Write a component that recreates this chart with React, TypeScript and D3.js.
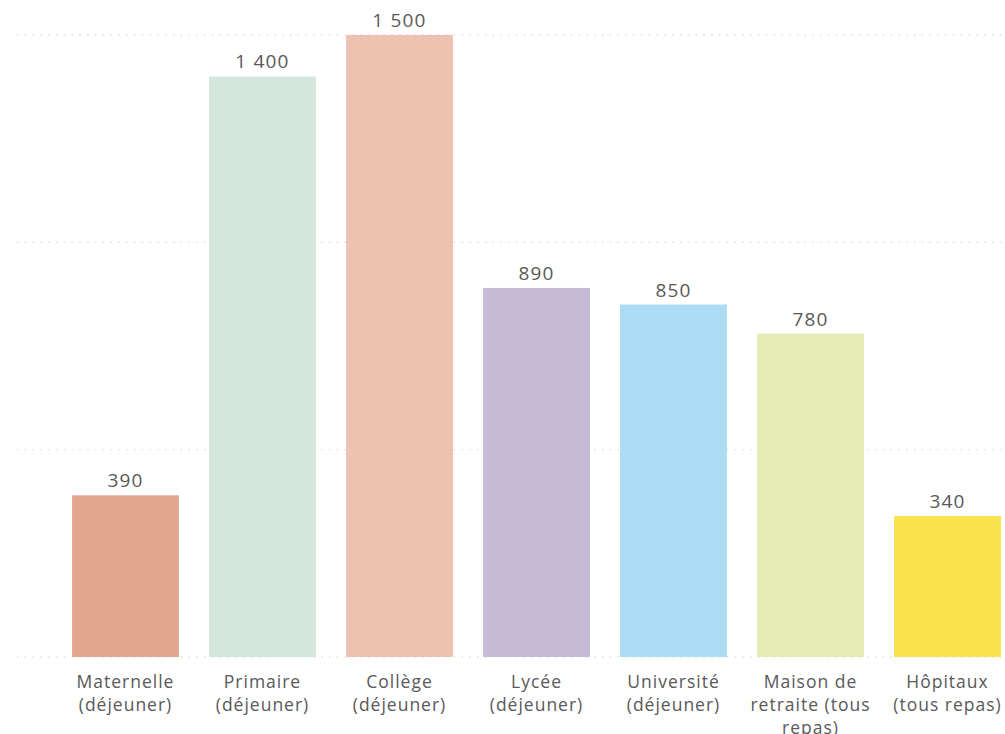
import React, { useEffect, useRef } from 'react';
import * as d3 from 'd3';

// Cantine data
const categories = ['Maternelle', 'Primaire', 'Collège', 'Lycée', 'Université', 'Maison de retraite', 'Hôpitaux'];
const tickLabels = [
  ['Maternelle', '(déjeuner)'],
  ['Primaire', '(déjeuner)'],
  ['Collège', '(déjeuner)'],
  ['Lycée', '(déjeuner)'],
  ['Université', '(déjeuner)'],
  ['Maison de', 'retraite (tous', 'repas)'],
  ['Hôpitaux', '(tous repas)'],
];
const values = [390, 1400, 1500, 890, 850, 780, 340];
const colors = ['#E2A58E', '#D4E7DC', '#EDC2B1', '#C5BBD6', '#ABDCF4', '#E4EBB4', '#F9E24C'];
const gridValues = [0, 500, 1000, 1500];

const W = 1005;
const H = 734;

const App: React.FC = () => {
  const svgRef = useRef<SVGSVGElement>(null);

  useEffect(() => {
    if (!svgRef.current) return;
    const svg = d3.select(svgRef.current);
    svg.selectAll('*').remove();

    const x = d3.scaleBand<string>()
      .domain(categories)
      .range([57, 1016])
      .paddingInner(0.22)
      .paddingOuter(0.11);

    const y = d3.scaleLinear().domain([0, 1500]).range([657, 35]);

    const fmt = (v: number) => d3.format(',')(v).replace(/,/g, ' ');
    const font = '"Open Sans", "Noto Sans", sans-serif';

    // dotted gridlines
    svg.append('g')
      .selectAll('line')
      .data(gridValues)
      .enter()
      .append('line')
      .attr('x1', 17)
      .attr('x2', W)
      .attr('y1', d => y(d))
      .attr('y2', d => y(d))
      .attr('stroke', '#d9d9d9')
      .attr('stroke-width', 1.3)
      .attr('stroke-dasharray', '1.3 6.5');

    // bars
    svg.append('g')
      .selectAll('rect')
      .data(values)
      .enter()
      .append('rect')
      .attr('x', (d, i) => x(categories[i])!)
      .attr('y', d => y(d))
      .attr('width', x.bandwidth())
      .attr('height', d => y(0) - y(d))
      .attr('fill', (d, i) => colors[i]);

    // value labels
    svg.append('g')
      .selectAll('text')
      .data(values)
      .enter()
      .append('text')
      .attr('x', (d, i) => x(categories[i])! + x.bandwidth() / 2)
      .attr('y', d => y(d) - 8)
      .attr('text-anchor', 'middle')
      .style('font-family', font)
      .style('font-size', '19px')
      .style('letter-spacing', '1.2px')
      .style('fill', '#595959')
      .text(d => fmt(d));

    // category labels
    const ticks = svg.append('g')
      .selectAll('text')
      .data(tickLabels)
      .enter()
      .append('text')
      .attr('x', (d, i) => x(categories[i])! + x.bandwidth() / 2)
      .attr('y', 688)
      .attr('text-anchor', 'middle')
      .style('font-family', font)
      .style('font-size', '17.5px')
      .style('letter-spacing', '1px')
      .style('fill', '#595959');

    ticks.each(function (lines, i) {
      const t = d3.select(this);
      const cx = x(categories[i])! + x.bandwidth() / 2;
      lines.forEach((line, j) => {
        t.append('tspan')
          .attr('x', cx)
          .attr('dy', j === 0 ? 0 : 23)
          .text(line);
      });
    });
  }, []);

  return (
    <svg
      ref={svgRef}
      width={W}
      height={H}
      style={{ position: 'absolute', left: 0, top: 0, background: '#ffffff' }}
    />
  );
};

export default App;
